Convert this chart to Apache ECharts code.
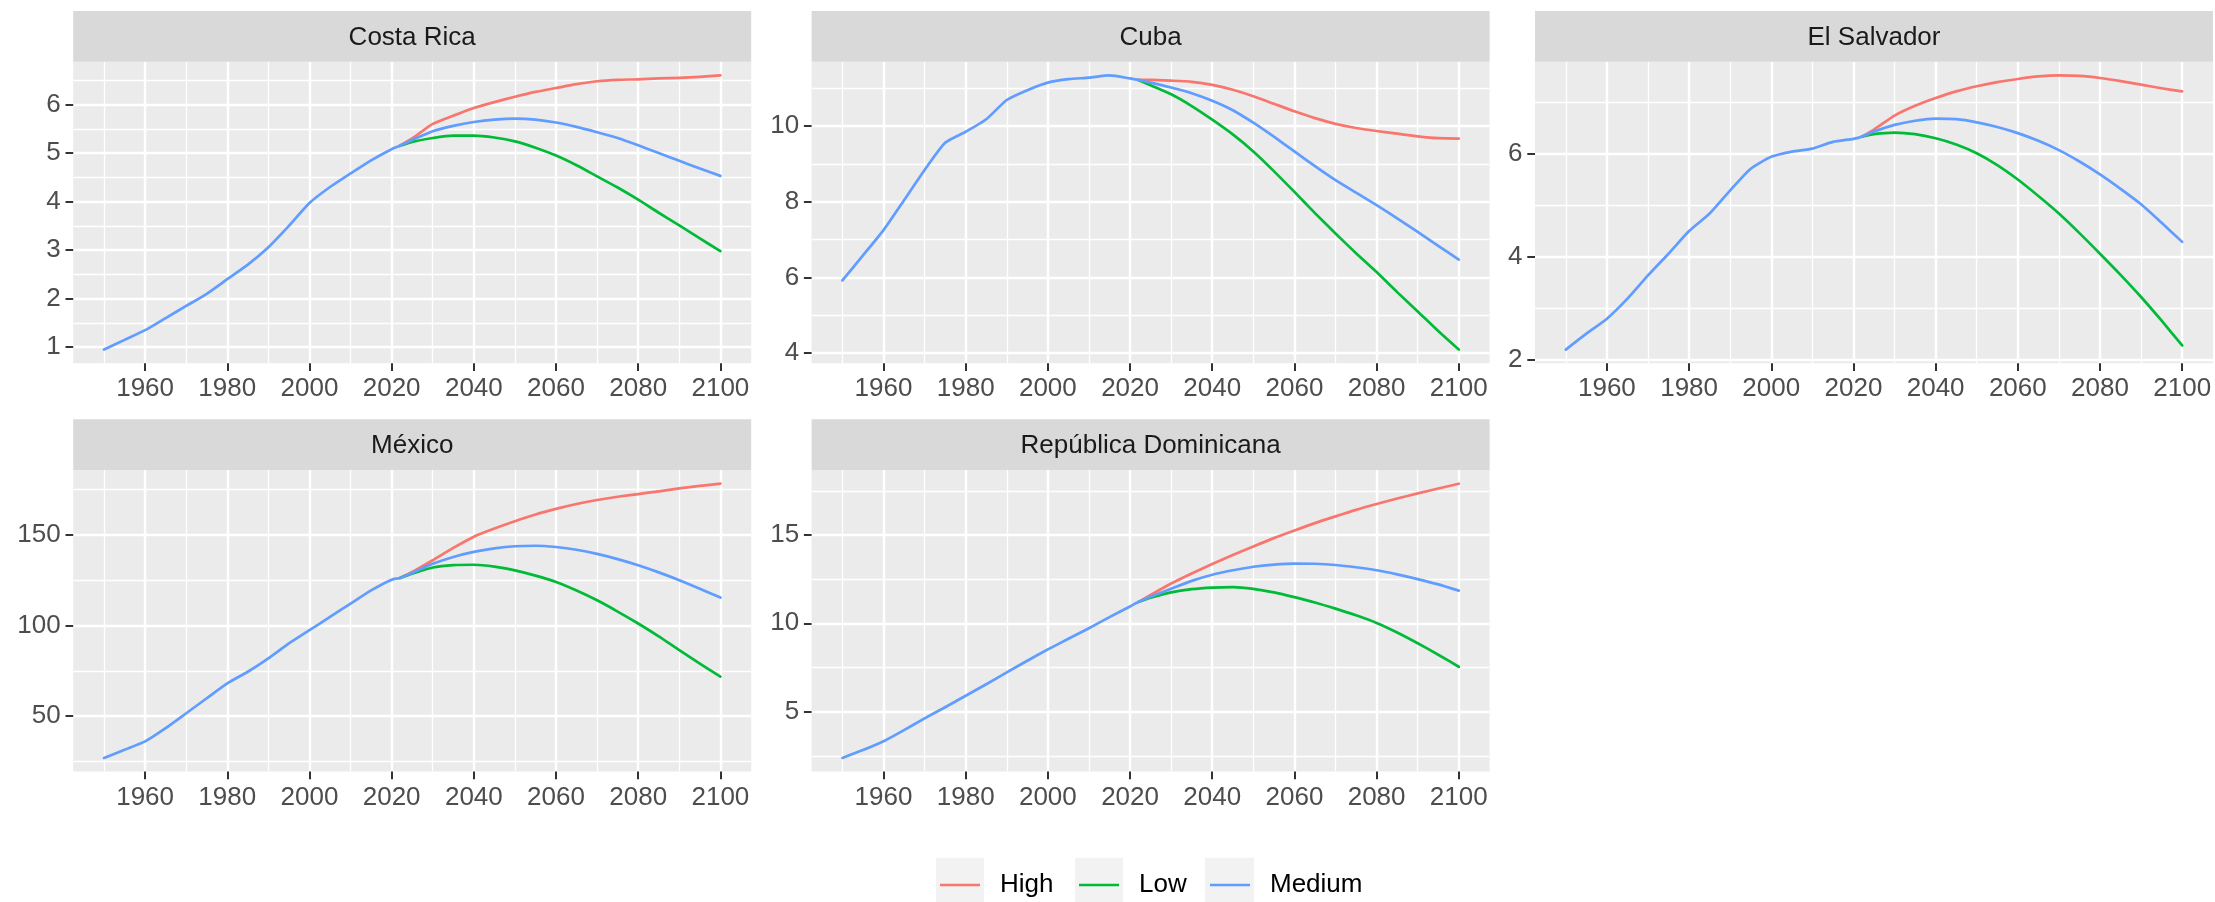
<!DOCTYPE html>
<html>
<head>
<meta charset="utf-8">
<script src="https://cdn.jsdelivr.net/npm/echarts@6/dist/echarts.min.js"></script>
<style>
html,body{margin:0;padding:0;background:#ffffff;}
#chart{width:2215px;height:902px;}
</style>
</head>
<body>
<div id="chart"></div>
<script>
// ---------------- data ----------------
const histYears = [1950,1955,1960,1965,1970,1975,1980,1985,1990,1995,2000,2005,2010,2015,2020];
const projYears = [2022,2025,2030,2035,2040,2045,2050,2055,2060,2065,2070,2075,2080,2085,2090,2095,2100];
const countries = ['Costa Rica','Cuba','El Salvador','México','República Dominicana'];
const scenarios = ['High','Low','Medium'];

// Medium: histYears followed by projYears
const costaRicaMedium = [0.95,1.15,1.35,1.60,1.85,2.10,2.40,2.70,3.06,3.50,3.97,4.30,4.58,4.85,5.08,
  5.15,5.27,5.45,5.56,5.64,5.69,5.71,5.69,5.63,5.54,5.43,5.31,5.16,5.00,4.84,4.68,4.53];
const costaRicaHigh = [5.15,5.30,5.60,5.77,5.93,6.05,6.16,6.26,6.34,6.42,6.48,6.51,6.52,6.54,6.55,6.57,6.60];
const costaRicaLow  = [5.15,5.23,5.31,5.36,5.36,5.32,5.24,5.11,4.95,4.75,4.52,4.29,4.04,3.77,3.51,3.24,2.98];

const cubaMedium = [5.92,6.58,7.25,8.04,8.84,9.56,9.85,10.18,10.69,10.95,11.15,11.24,11.28,11.34,11.26,
  11.22,11.15,11.02,10.87,10.67,10.42,10.09,9.72,9.33,8.94,8.57,8.24,7.91,7.56,7.20,6.83,6.47];
const cubaHigh = [11.22,11.22,11.20,11.17,11.09,10.96,10.79,10.59,10.39,10.21,10.06,9.95,9.87,9.80,9.73,9.68,9.67];
const cubaLow  = [11.22,11.08,10.84,10.53,10.17,9.78,9.33,8.81,8.26,7.70,7.16,6.64,6.14,5.61,5.10,4.58,4.09];

const elSalvadorMedium = [2.20,2.51,2.80,3.19,3.64,4.06,4.50,4.84,5.29,5.71,5.94,6.04,6.10,6.23,6.29,
  6.33,6.43,6.56,6.64,6.68,6.67,6.61,6.52,6.40,6.25,6.07,5.85,5.60,5.32,5.02,4.66,4.29];
const elSalvadorHigh = [6.33,6.47,6.74,6.93,7.08,7.21,7.31,7.39,7.45,7.50,7.52,7.51,7.47,7.41,7.34,7.27,7.21];
const elSalvadorLow  = [6.33,6.38,6.41,6.38,6.30,6.18,6.01,5.78,5.50,5.18,4.84,4.46,4.06,3.65,3.22,2.76,2.28];

const mexicoMedium = [27.0,31.5,36.1,43.4,51.6,59.9,68.1,74.5,81.9,90.1,97.4,104.8,112.1,119.4,125.3,
  126.2,129.0,134.0,137.8,140.6,142.5,143.7,144.0,143.3,141.8,139.5,136.6,133.2,129.3,125.0,120.3,115.4];
const mexicoHigh = [126.2,129.5,136.0,142.8,149.0,153.5,157.5,161.2,164.3,167.0,169.2,171.0,172.5,174.0,175.6,177.0,178.2];
const mexicoLow  = [126.2,128.6,132.0,133.3,133.5,132.5,130.4,127.5,124.0,119.3,113.9,107.7,101.1,94.0,86.4,79.0,71.8];

const domRepMedium = [2.38,2.82,3.32,3.95,4.62,5.25,5.90,6.55,7.22,7.88,8.52,9.12,9.72,10.35,10.95,
  11.20,11.50,11.95,12.40,12.75,13.00,13.20,13.32,13.38,13.37,13.30,13.17,13.00,12.77,12.50,12.20,11.85];
const domRepHigh = [11.20,11.60,12.25,12.82,13.35,13.86,14.35,14.82,15.25,15.67,16.05,16.42,16.75,17.06,17.35,17.63,17.90];
const domRepLow  = [11.20,11.45,11.75,11.93,12.02,12.05,11.95,11.75,11.48,11.18,10.83,10.45,10.02,9.48,8.87,8.22,7.54];

// tick labels
const xMajorTicks = [1960,1980,2000,2020,2040,2060,2080,2100];
const xMinorTicks = [1950,1970,1990,2010,2030,2050,2070,2090];
const yMajorTicks = [[1,2,3,4,5,6],[4,6,8,10],[2,4,6],[50,100,150],[5,10,15]];
const yMinorTicks = [[1.5,2.5,3.5,4.5,5.5,6.5],[5,7,9,11],[3,5,7],[25,75,125,175],[2.5,7.5,12.5,17.5]];

const seriesByCountry = [
  {High: costaRicaHigh, Low: costaRicaLow, Medium: costaRicaMedium},
  {High: cubaHigh, Low: cubaLow, Medium: cubaMedium},
  {High: elSalvadorHigh, Low: elSalvadorLow, Medium: elSalvadorMedium},
  {High: mexicoHigh, Low: mexicoLow, Medium: mexicoMedium},
  {High: domRepHigh, Low: domRepLow, Medium: domRepMedium}
];
const colors = {High:'#F8766D', Low:'#00BA38', Medium:'#619CFF'};

// ---------------- layout ----------------
const FONT = '"Liberation Sans", Arial, sans-serif';
const colLeft = [73.2, 811.6, 1535];
const rowTop = [61.7, 470];
const panelW = 678, panelH = 301.6, stripH = 50.7;
const xMin = 1942.5, xMax = 2107.5;

const allYears = histYears.concat(projYears);
function pairs(xs, ys){ return xs.map((x,i)=>[x, ys[i]]); }
function limits(obj){
  let mn = Infinity, mx = -Infinity;
  scenarios.forEach(s => obj[s].forEach(v => { if (v < mn) mn = v; if (v > mx) mx = v; }));
  const r = mx - mn;
  return [mn - 0.05*r, mx + 0.05*r];
}
const plainLabel = v => String(v);

const grids = [], xAxes = [], yAxes = [], series = [], graphics = [];
countries.forEach((name, i) => {
  const row = Math.floor(i/3), col = i % 3;
  const left = colLeft[col], top = rowTop[row];
  grids.push({left: left, top: top, width: panelW, height: panelH, show: true,
    backgroundColor: '#EBEBEB', borderWidth: 0, containLabel: false});
  const lim = limits(seriesByCountry[i]);
  // major x
  xAxes.push({type:'value', gridIndex:i, min:xMin, max:xMax, position:'bottom',
    axisLine:{show:false},
    axisTick:{show:true, length:7.7, customValues:xMajorTicks, lineStyle:{color:'#333333', width:2}},
    axisLabel:{show:true, customValues:xMajorTicks, formatter:plainLabel, color:'#4D4D4D', fontSize:26, fontFamily:FONT, margin:13},
    splitLine:{show:true, lineStyle:{color:'#FFFFFF', width:2.4}}});
  // minor x
  xAxes.push({type:'value', gridIndex:i, min:xMin, max:xMax, position:'top',
    axisLine:{show:false},
    axisTick:{show:false, customValues:xMinorTicks},
    axisLabel:{show:false},
    splitLine:{show:true, lineStyle:{color:'#FFFFFF', width:1.3}}});
  // major y
  yAxes.push({type:'value', gridIndex:i, min:lim[0], max:lim[1], position:'left',
    axisLine:{show:false},
    axisTick:{show:true, length:7.7, customValues:yMajorTicks[i], lineStyle:{color:'#333333', width:2}},
    axisLabel:{show:true, customValues:yMajorTicks[i], formatter:plainLabel, color:'#4D4D4D', fontSize:26, fontFamily:FONT, margin:12.5},
    splitLine:{show:true, lineStyle:{color:'#FFFFFF', width:2.4}}});
  // minor y
  yAxes.push({type:'value', gridIndex:i, min:lim[0], max:lim[1], position:'right',
    axisLine:{show:false},
    axisTick:{show:false, customValues:yMinorTicks[i]},
    axisLabel:{show:false},
    splitLine:{show:true, lineStyle:{color:'#FFFFFF', width:1.3}}});

  scenarios.forEach(s => {
    const ys = seriesByCountry[i][s];
    const xs = s === 'Medium' ? allYears : projYears;
    series.push({name:s, type:'line', xAxisIndex:2*i, yAxisIndex:2*i,
      data: pairs(xs, ys), symbol:'none', showSymbol:false, smooth:0.2,
      color: colors[s], lineStyle:{color: colors[s], width:2.7, join:'round', cap:'round'},
      silent:true, animation:false, z:3});
  });

  // strip
  graphics.push({type:'rect', shape:{x:left, y:top - stripH, width:panelW, height:stripH},
    style:{fill:'#D9D9D9'}, z:1, silent:true});
  graphics.push({type:'text', x:left + panelW/2, y:top - stripH/2 + 1,
    style:{text:name, fill:'#1A1A1A', font:'26px ' + FONT, align:'center', verticalAlign:'middle'}, z:2, silent:true});
});

// legend key backgrounds
const keyBoxes = [[936,48],[1075,48],[1205,49]];
keyBoxes.forEach(k => graphics.push({type:'rect', shape:{x:k[0], y:857.7, width:k[1], height:48},
  style:{fill:'#F2F2F2'}, z:0, silent:true}));

const legendLeft = [940, 1079, 1210];
const legends = scenarios.map((s, j) => ({
  data:[{name:s, icon:'rect'}], left: legendLeft[j], top: 872, orient:'horizontal',
  itemWidth: 40, itemHeight: 2.6, padding: 0, selectedMode: false,
  itemStyle:{color: colors[s], borderWidth:0},
  textStyle:{fontSize:26, fontFamily:FONT, color:'#000000', padding:[0,0,0,15]}
}));

const chart = echarts.init(document.getElementById('chart'), null, {renderer:'canvas'});
chart.setOption({
  animation:false,
  backgroundColor:'#FFFFFF',
  textStyle:{fontFamily:FONT},
  grid: grids, xAxis: xAxes, yAxis: yAxes, series: series,
  legend: legends,
  graphic: {elements: graphics}
});
</script>
</body>
</html>
